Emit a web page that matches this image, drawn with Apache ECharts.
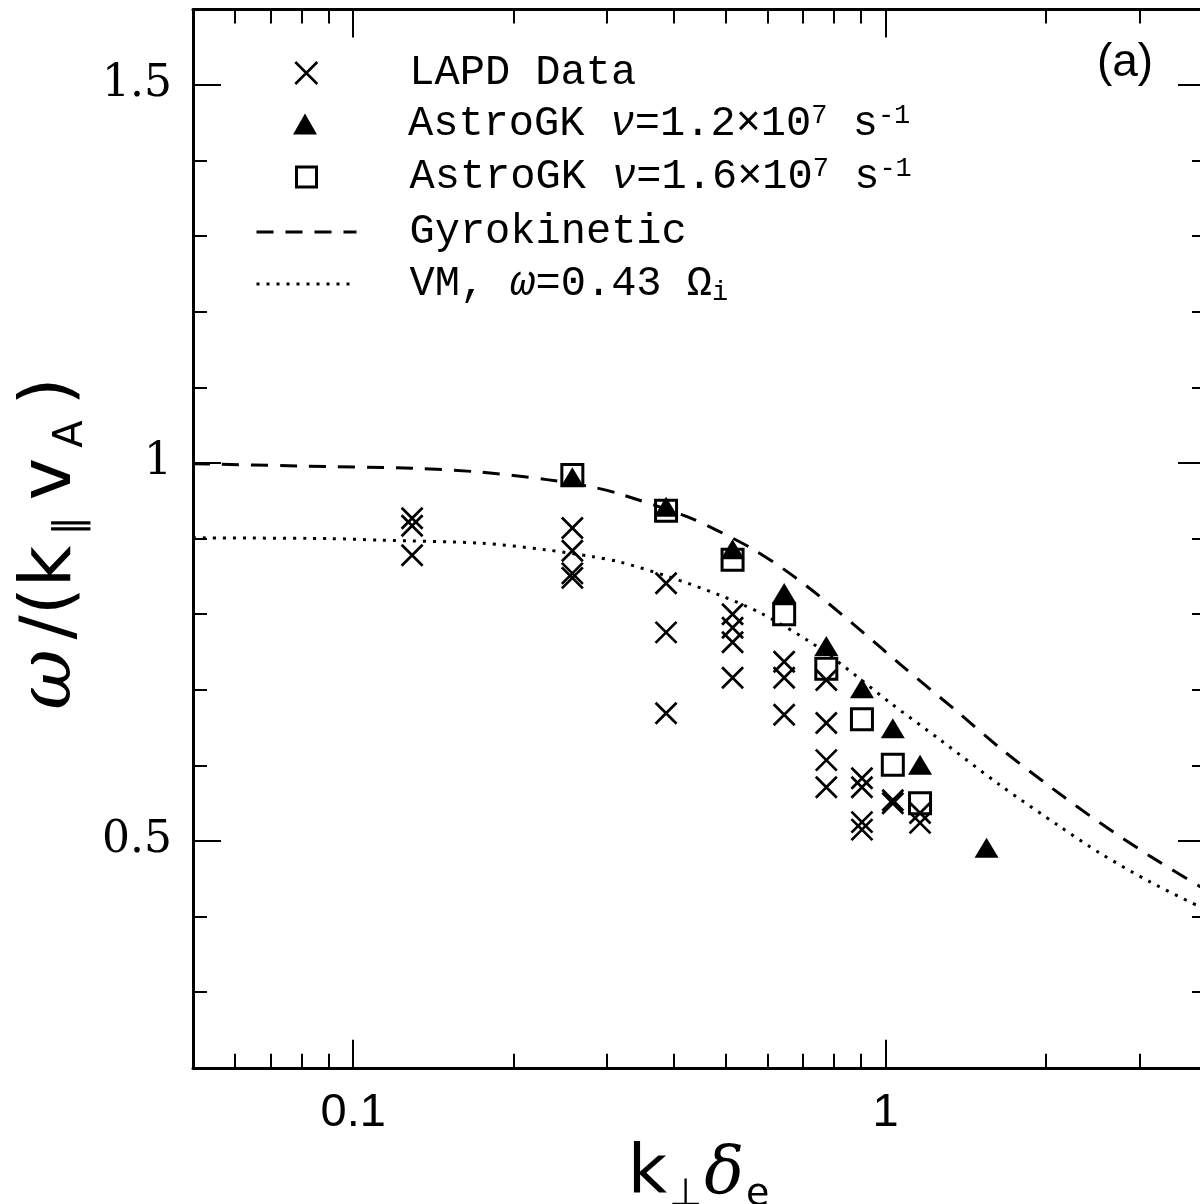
<!DOCTYPE html>
<html><head><meta charset="utf-8">
<script src="https://cdn.jsdelivr.net/npm/echarts@6/dist/echarts.min.js"></script>
<style>html,body{margin:0;padding:0;background:#fff}#c{width:1200px;height:1204px}</style>
</head><body><div id="c"></div>
<script>
// ---------------- data ----------------
const lapdK = [0.129,0.129,0.129, 0.258,0.258,0.258,0.258, 0.387,0.387,0.387, 0.516,0.516,0.516,0.516, 0.645,0.645,0.645, 0.774,0.774,0.774,0.774, 0.903,0.903,0.903,0.903, 1.032,1.032, 1.161,1.161];
const lapdW = [0.927,0.917,0.878, 0.914,0.884,0.854,0.848, 0.841,0.776,0.669, 0.800,0.782,0.763,0.716, 0.737,0.716,0.667, 0.713,0.656,0.607,0.571, 0.583,0.571,0.525,0.515, 0.554,0.550, 0.537,0.524];

const agk12K = [0.258,0.387,0.516,0.645,0.774,0.903,1.032,1.161,1.548];
const agk12W = [0.981,0.942,0.886,0.828,0.758,0.702,0.649,0.601,0.491];

const agk16K = [0.258,0.387,0.516,0.645,0.774,0.903,1.032,1.161];
const agk16W = [0.984,0.937,0.872,0.800,0.728,0.661,0.601,0.550];

const gyroK = [0.05,0.0794,0.1295,0.173,0.2312,0.2821,0.3171,0.4237,0.4887,0.5636,0.6516,0.7513,0.907,1.0646,1.3801,1.6406,2.0636,2.5283,3.1397,4.0];
const gyroW = [0.999,0.996,0.993,0.988,0.978,0.968,0.959,0.929,0.909,0.886,0.857,0.824,0.776,0.734,0.668,0.623,0.569,0.524,0.480,0.435];

const vmK = [0.05,0.0905,0.1123,0.173,0.2312,0.2821,0.3171,0.3937,0.4887,0.5809,0.7118,0.8214,1.0195,1.2657,1.6406,2.1268,2.5283,3.1397,4.0];
const vmW = [0.901,0.900,0.898,0.894,0.885,0.876,0.869,0.849,0.825,0.802,0.766,0.735,0.683,0.634,0.574,0.519,0.484,0.446,0.409];

const xMajorTicks = [0.1, 1];
const xTickLabels = ['0.1', '1'];
const xMinorTicks = [0.06,0.07,0.08,0.09,0.2,0.3,0.4,0.5,0.6,0.7,0.8,0.9,2,3];
const yMajorTicks = [0.5, 1, 1.5];
const yTickLabels = ['0.5', '1', '1.5'];
const yMinorTicks = [0.3,0.4,0.6,0.7,0.8,0.9,1.1,1.2,1.3,1.4];

const seriesNames = ['LAPD Data', 'AstroGK ν=1.2×10⁷ s⁻¹', 'AstroGK ν=1.6×10⁷ s⁻¹', 'Gyrokinetic', 'VM, ω=0.43 Ωi'];
const legendRich = [
  '{t|LAPD Data}',
  '{t|AstroGK }{i|ν}{t|=1.2×10}{sup|7}{t| s}{sup|-1}',
  '{t|AstroGK }{i|ν}{t|=1.6×10}{sup|7}{t| s}{sup|-1}',
  '{t|Gyrokinetic}',
  '{t|VM, }{i|ω}{t|=0.43 Ω}{sub|i}'
];

// ---------------- chart ----------------
const zip = (a, b) => a.map((v, i) => [v, b[i]]);
const X_PATH = 'path://M0,0L10,10M10,0L0,10';
const TRI_PATH = 'path://M12,0L24,21L0,21Z';
const SQ_PATH = 'path://M0,0L10,0L10,10L0,10Z';

const XMIN = 0.05, XMAX = 4, YMIN = 0.2, YMAX = 1.6;
const frameLine = { color: '#000', width: 3 };
const tickStyle = { color: '#000', width: 2 };

function xAx(pos, major, showLine) {
  return {
    type: 'log', logBase: 10, min: XMIN, max: XMAX, position: pos,
    axisLine: { show: showLine, onZero: false, lineStyle: frameLine },
    axisTick: { show: true, inside: true, length: major ? 28 : 14, lineStyle: tickStyle,
                customValues: major ? xMajorTicks : xMinorTicks },
    axisLabel: { show: false },
    splitLine: { show: false }, minorTick: { show: false }
  };
}
function yAx(pos, major, showLine) {
  return {
    type: 'value', min: YMIN, max: YMAX, position: pos,
    axisLine: { show: showLine, onZero: false, lineStyle: frameLine },
    axisTick: { show: true, inside: true, length: major ? 28 : 14, lineStyle: tickStyle,
                customValues: major ? yMajorTicks : yMinorTicks },
    axisLabel: { show: false },
    splitLine: { show: false }
  };
}

const xMain = xAx('bottom', true, true);
xMain.axisLabel = {
  show: true, customValues: xMajorTicks, margin: 22,
  formatter: v => xTickLabels[xMajorTicks.findIndex(t => Math.abs(t - v) < 1e-9)] ?? '',
  fontFamily: 'Liberation Sans', fontSize: 47, color: '#000'
};
xMain.name = '{m|k}{s|⊥}{i|δ}{s|e}';
xMain.nameLocation = 'middle';
xMain.nameGap = 58;
xMain.nameTextStyle = {
  color: '#000',
  rich: {
    m: { fontFamily: 'DejaVu Sans', fontSize: 68, lineHeight: 76, color: '#000' },
    i: { fontFamily: 'DejaVu Serif', fontStyle: 'italic', fontSize: 66, lineHeight: 76, color: '#000' },
    s: { fontFamily: 'DejaVu Sans', fontSize: 38, lineHeight: 34, verticalAlign: 'bottom', color: '#000', padding: [0, 2, 0, 2] }
  }
};

const yMain = yAx('left', true, true);
yMain.axisLabel = {
  show: true, customValues: yMajorTicks, margin: 21,
  formatter: v => yTickLabels[yMajorTicks.findIndex(t => Math.abs(t - v) < 1e-9)] ?? '',
  fontFamily: 'DejaVu Serif', fontSize: 44, color: '#000'
};
yMain.name = '{i|ω}{m|/(k}{s|∥}{m|v}{s|A}{m|)}';
yMain.nameLocation = 'middle';
yMain.nameRotate = 90;
yMain.nameGap = 95;
yMain.nameTextStyle = {
  color: '#000',
  rich: {
    m: { fontFamily: 'DejaVu Sans', fontSize: 72, lineHeight: 80, color: '#000', padding: [0, 10, 0, 10] },
    i: { fontFamily: 'DejaVu Serif', fontStyle: 'italic', fontSize: 74, lineHeight: 80, color: '#000' },
    s: { fontFamily: 'DejaVu Sans', fontSize: 40, lineHeight: 36, verticalAlign: 'bottom', color: '#000', padding: [0, 5, 0, 0] }
  }
};

function legendItem(i, left, centerY, itemWidth, extra, pad) {
  return Object.assign({
    data: [seriesNames[i]], left: left, top: centerY - 22, padding: 0,
    orient: 'vertical', itemWidth: itemWidth, itemHeight: 44, selectedMode: false,
    formatter: () => '{pad| }' + legendRich[i],
    textStyle: {
      color: '#000', fontFamily: 'Liberation Mono', fontSize: 42, lineHeight: 44,
      rich: {
        pad: { width: pad, fontSize: 10, lineHeight: 44 },
        t: { fontFamily: 'Liberation Mono', fontSize: 42, lineHeight: 44, color: '#000' },
        i: { fontFamily: 'Liberation Mono', fontStyle: 'italic', fontSize: 42, lineHeight: 44, color: '#000' },
        sup: { fontFamily: 'Liberation Mono', fontSize: 27, lineHeight: 18, verticalAlign: 'top', color: '#000' },
        sub: { fontFamily: 'Liberation Mono', fontSize: 27, lineHeight: 20, verticalAlign: 'bottom', color: '#000' }
      }
    }
  }, extra);
}

const legends = [
  legendItem(0, 294, 73, 22, { data: [{ name: seriesNames[0], icon: X_PATH }],
    itemStyle: { color: 'transparent', borderColor: '#000', borderWidth: 2.6, opacity: 1 } }, 87),
  legendItem(1, 293, 124, 24, { data: [{ name: seriesNames[1], icon: TRI_PATH }],
    itemStyle: { color: '#000', borderWidth: 0, opacity: 1 } }, 86),
  legendItem(2, 295, 177, 20, { data: [{ name: seriesNames[2], icon: SQ_PATH }],
    itemStyle: { color: 'transparent', borderColor: '#000', borderWidth: 3, opacity: 1 } }, 88),
  legendItem(3, 255, 232, 100, { itemStyle: { opacity: 0 },
    lineStyle: { color: '#000', width: 3, type: [17, 12] } }, 48),
  legendItem(4, 255, 284, 100, { itemStyle: { opacity: 0 },
    lineStyle: { color: '#000', width: 3, type: [3, 7] } }, 48)
];

const option = {
  animation: false,
  backgroundColor: '#fff',
  grid: { left: 193, top: 9.4, width: 1013, height: 1058.4, outerBoundsMode: 'none' },
  xAxis: [xMain, xAx('bottom', false, false), xAx('top', true, true), xAx('top', false, false)],
  yAxis: [yMain, yAx('left', false, false), yAx('right', true, true), yAx('right', false, false)],
  legend: legends,
  graphic: [{
    type: 'text', x: 1125, y: 63,
    style: { text: '(a)', font: '46px "Liberation Sans"', fill: '#000', align: 'center', verticalAlign: 'middle' }
  }],
  series: [
    { name: seriesNames[3], type: 'line', data: zip(gyroK, gyroW), showSymbol: false, symbol: 'none',
      smooth: 0.3, lineStyle: { color: '#000', width: 3, type: [17, 12] }, itemStyle: { color: '#000' },
      emphasis: { disabled: true }, z: 2 },
    { name: seriesNames[4], type: 'line', data: zip(vmK, vmW), showSymbol: false, symbol: 'none',
      smooth: 0.3, lineStyle: { color: '#000', width: 3, type: [3, 7] }, itemStyle: { color: '#000' },
      emphasis: { disabled: true }, z: 2 },
    { name: seriesNames[0], type: 'scatter', data: zip(lapdK, lapdW), symbol: X_PATH, symbolSize: 21,
      itemStyle: { color: 'transparent', borderColor: '#000', borderWidth: 2.7, opacity: 1 }, emphasis: { disabled: true }, z: 3 },
    { name: seriesNames[1], type: 'scatter', data: zip(agk12K, agk12W), symbol: 'triangle', symbolSize: [24, 20],
      itemStyle: { color: '#000', opacity: 1 }, emphasis: { disabled: true }, z: 3 },
    { name: seriesNames[2], type: 'scatter', data: zip(agk16K, agk16W), symbol: 'rect', symbolSize: 21,
      itemStyle: { color: 'transparent', borderColor: '#000', borderWidth: 3, opacity: 1 }, emphasis: { disabled: true }, z: 3 }
  ]
};

const chart = echarts.init(document.getElementById('c'), null, { renderer: 'canvas' });
chart.setOption(option);
</script>
</body></html>
